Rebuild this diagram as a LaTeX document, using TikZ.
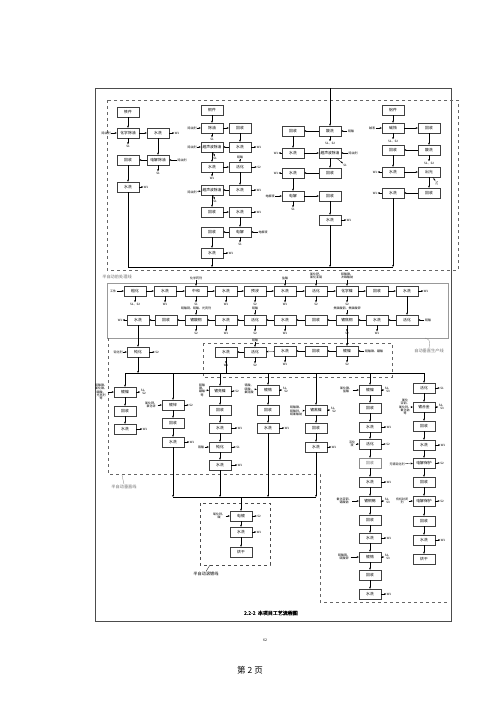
\documentclass[tikz,border=0pt]{standalone}
\usepackage{fontspec}
\newfontfamily\cjk{Noto Sans CJK SC}
\newfontfamily\cjkbold{Noto Sans CJK SC}[FakeBold=1.5]
\usetikzlibrary{arrows.meta}
\tikzset{
  box/.style={draw=black!75, line width=0.3pt, minimum width=22pt, minimum height=10pt, inner sep=0.4pt, font=\cjk\fontsize{3.8}{4.2}\selectfont},
  lbl/.style={inner sep=0.4pt, font=\cjk\fontsize{3}{3.4}\selectfont, align=center},
  zone/.style={inner sep=0.5pt, font=\cjk\fontsize{4.2}{5}\selectfont, text=black!55},
}
\begin{document}
\begin{tikzpicture}[x=1pt, y=-1pt, line width=0.3pt, >={Stealth[length=2.2pt,width=1.8pt]}]
    \useasboundingbox (0,0) rectangle (500,707);
    \fill[white] (0,0) rectangle (500,707);
    % Page frame and zones
    \draw[line width=0.6pt, black!70] (95,88) rectangle (451,621);
    \draw[dashed, black!60] (107,100) rectangle (458,270);
    \draw[black!40] (107,283) rectangle (448,338);
    \draw[dashed, black!60] (203,343) rectangle (392,377);
    \draw[dashed, black!60] (108,338) -- (108,474) -- (320,474) -- (320,602) -- (447,602);
    \draw[dashed, black!70] (200,503) rectangle (270,565);
    \node[zone] (z1) at (117,277) {半自动前处理线};
    \node[zone] (z2) at (429,351) {自动垂直生产线};
    \node[zone] (z3) at (124,487) {半自动垂直线};
    \node[zone, text=black] (z4) at (206,574) {半自动滚镀线};
    \draw[black!50] (z2.north) .. controls (430,340) .. (425,338);
    \draw[black!50] (z3.north) -- (122,475);
    \draw (z4.north) -- (210,565);

    % Column A
    \node[box] (A0) at (128,112) {铁件};
    \node[box] (A1) at (128,133) {化学除油};
    \node[box] (A2) at (158,133) {水洗};
    \node[box] (A3) at (158,160) {电解除油};
    \node[box] (A4) at (128,160) {回收};
    \node[box] (A5) at (128,187) {水洗};
    \node[lbl] (A1i) at (106,133) {除油剂};
    \node[lbl] (A1s) at (128,146) {S1};
    \node[lbl] (A2w) at (177,133) {W1};
    \node[lbl] (A3i) at (182,160) {除油剂};
    \node[lbl] (A3s) at (158,173) {S1};
    \node[lbl] (A5w) at (146,187) {W1};
    \draw[->] (A0) -- (A1);
    \draw[->] (A1) -- (A2);
    \draw[->] (A2) -- (A3);
    \draw[->] (A3) -- (A4);
    \draw[->] (A4) -- (A5);
    \draw[->] (A1i) -- (A1);
    \draw[->] (A1) -- (A1s);
    \draw[->] (A2) -- (A2w);
    \draw[->] (A3i) -- (A3);
    \draw[->] (A3) -- (A3s);
    \draw[->] (A5) -- (A5w);

    % Column B
    \node[box] (B0) at (212,110) {铜件};
    \node[box] (B1) at (212,128) {除油};
    \node[box] (B2) at (240,128) {回收};
    \node[box] (B3) at (240,147) {水洗};
    \node[box] (B4) at (212,147) {超声波除油};
    \node[box] (B5) at (212,167) {水洗};
    \node[box] (B6) at (240,167) {活化};
    \node[box] (B7) at (240,190) {水洗};
    \node[box] (B8) at (212,190) {超声波除油};
    \node[box] (B9) at (212,212) {回收};
    \node[box] (B10) at (240,212) {水洗};
    \node[box] (B11) at (240,232) {电解};
    \node[box] (B12) at (212,232) {回收};
    \node[box] (B13) at (212,253) {水洗};
    \node[lbl] (B1i) at (192,128) {除油剂};
    \node[lbl] (B1s) at (212,139) {S1};
    \node[lbl] (B3w) at (259,147) {W1};
    \node[lbl] (B4i) at (192,147) {除油剂};
    \node[lbl] (B4s) at (215,158) {S1};
    \node[lbl] (B5w) at (212,178) {W1};
    \node[lbl] (B6i) at (240,157) {硫酸};
    \node[lbl] (B6s) at (259,167) {S2};
    \node[lbl] (B7w) at (259,190) {W1};
    \node[lbl] (B8i) at (192,192) {除油剂};
    \node[lbl] (B8s) at (215,201) {S1};
    \node[lbl] (B10w) at (259,212) {W1};
    \node[lbl] (B11i) at (263,232) {电解液};
    \node[lbl] (B11s) at (240,244) {S1};
    \node[lbl] (B13w) at (231,253) {W1};
    \draw[->] (B0) -- (B1);
    \draw[->] (B1) -- (B2);
    \draw[->] (B2) -- (B3);
    \draw[->] (B3) -- (B4);
    \draw[->] (B4) -- (B5);
    \draw[->] (B5) -- (B6);
    \draw[->] (B6) -- (B7);
    \draw[->] (B7) -- (B8);
    \draw[->] (B8) -- (B9);
    \draw[->] (B9) -- (B10);
    \draw[->] (B10) -- (B11);
    \draw[->] (B11) -- (B12);
    \draw[->] (B12) -- (B13);
    \draw[->] (B1i) -- (B1);
    \draw[->] (B1) -- (B1s);
    \draw[->] (B3) -- (B3w);
    \draw[->] (B4i) -- (B4);
    \draw[->] (B4) -- (B4s);
    \draw[->] (B5) -- (B5w);
    \draw[->] (B6i) -- (B6);
    \draw[->] (B6) -- (B6s);
    \draw[->] (B7) -- (B7w);
    \draw[->] (B8i) -- (B8);
    \draw[->] (B8) -- (B8s);
    \draw[->] (B10) -- (B10w);
    \draw[->] (B11i) -- (B11);
    \draw[->] (B11) -- (B11s);
    \draw[->] (B13) -- (B13w);

    % Column C
    \coordinate (ctop) at (330,88);
    \node[box] (C1) at (330,131) {酸洗};
    \node[box] (C2) at (293,131) {回收};
    \node[box] (C3) at (293,153) {水洗};
    \node[box] (C4) at (330,153) {超声波除油};
    \node[box] (C5) at (330,173) {回收};
    \node[box] (C6) at (293,173) {水洗};
    \node[box] (C7) at (293,196) {电解};
    \node[box] (C8) at (330,196) {回收};
    \node[box] (C9) at (330,220) {水洗};
    \node[lbl] (C1i) at (351,131) {硫酸};
    \node[lbl] (C1s) at (330,143) {S1、S2};
    \node[lbl] (C3w) at (276,153) {W1};
    \node[lbl] (C4i) at (353,153) {除油剂};
    \node[lbl] (C4s) at (345,165) {S1};
    \node[lbl] (C6w) at (276,173) {W1};
    \node[lbl] (C7i) at (270,196) {电解液};
    \node[lbl] (C7s) at (293,209) {S1};
    \node[lbl] (C9w) at (349,220) {W1};
    \draw[->] (ctop) -- (C1);
    \draw[->] (C1) -- (C2);
    \draw[->] (C2) -- (C3);
    \draw[->] (C3) -- (C4);
    \draw[->] (C4) -- (C5);
    \draw[->] (C5) -- (C6);
    \draw[->] (C6) -- (C7);
    \draw[->] (C7) -- (C8);
    \draw[->] (C8) -- (C9);
    \draw[->] (C1i) -- (C1);
    \draw[->] (C1) -- (C1s);
    \draw[->] (C3) -- (C3w);
    \draw[->] (C4i) -- (C4);
    \draw[->] (C4) -- (C4s);
    \draw[->] (C6) -- (C6w);
    \draw[->] (C7i) -- (C7);
    \draw[->] (C7) -- (C7s);
    \draw[->] (C9) -- (C9w);

    % Column D
    \node[box] (D0) at (393,110) {铝件};
    \node[box] (D1) at (393,128) {碱蚀};
    \node[box] (D2) at (429,128) {回收};
    \node[box] (D3) at (429,150) {酸洗};
    \node[box] (D4) at (393,150) {回收};
    \node[box] (D5) at (393,172) {水洗};
    \node[box] (D6) at (429,172) {出光};
    \node[box] (D7) at (429,193) {回收};
    \node[box] (D8) at (393,193) {水洗};
    \node[lbl] (D1i) at (372,128) {碱液};
    \node[lbl] (D1s) at (393,141) {S1、S2};
    \node[lbl] (D3s) at (429,163) {S1、S2};
    \node[lbl] (D5w) at (375,172) {W1};
    \node[lbl, rotate=-90] (D6s) at (437,183) {S2};
    \node[lbl] (D8w) at (375,193) {W1};
    \draw[->] (D0) -- (D1);
    \draw[->] (D1) -- (D2);
    \draw[->] (D2) -- (D3);
    \draw[->] (D3) -- (D4);
    \draw[->] (D4) -- (D5);
    \draw[->] (D5) -- (D6);
    \draw[->] (D6) -- (D7);
    \draw[->] (D7) -- (D8);
    \draw[->] (D1i) -- (D1);
    \draw[->] (D1) -- (D1s);
    \draw[->] (D3) -- (D3s);
    \draw[->] (D5) -- (D5w);
    \draw[->] (D6) -- (D6s);
    \draw[->] (D8) -- (D8w);

    % Collecting line of the top zone
    \coordinate (ca) at (128,267);
    \coordinate (cb) at (212,267);
    \coordinate (cc) at (330,267);
    \coordinate (cd) at (393,267);
    \draw (A5) -- (ca) -- (cd);
    \draw[->] (B13) -- (cb);
    \draw[->] (C9) -- (cc);
    \draw[->] (D8) -- (cd);

    % Row 1
    \node[lbl] (m0) at (113,291) {工件};
    \node[box] (M1) at (135,291) {粗化};
    \node[box] (M2) at (165,291) {水洗};
    \node[box] (M3) at (196,291) {中和};
    \node[box] (M4) at (226,291) {水洗};
    \node[box] (M5) at (255,291) {预浸};
    \node[box] (M6) at (285,291) {水洗};
    \node[box] (M7) at (316,291) {活化};
    \node[box] (M8) at (347,291) {化学镍};
    \node[box] (M9) at (377,291) {回收};
    \node[box] (M10) at (407,291) {水洗};
    \node[lbl] (M1s) at (135,304) {S1、S2};
    \node[lbl] (M2w) at (165,304) {W1};
    \node[lbl] (M3i) at (196,278) {化学药剂};
    \node[lbl] (M3s) at (196,304) {S1};
    \node[lbl] (M4w) at (226,304) {W1};
    \node[lbl] (M5s) at (255,304) {S2};
    \node[lbl] (M6i) at (285,278) {盐酸};
    \node[lbl] (M6w) at (285,304) {W1};
    \node[lbl] (M7i) at (316,276) {氯化钯、\\氯化亚锡};
    \node[lbl] (M7s) at (316,304) {S2};
    \node[lbl] (M8i) at (347,276) {硫酸镍、\\次磷酸钠};
    \node[lbl] (M8s) at (347,304) {S2};
    \node[lbl] (M10w) at (426,291) {W1};
    \draw[->] (m0) -- (M1);
    \draw[->] (M1) -- (M2);
    \draw[->] (M2) -- (M3);
    \draw[->] (M3) -- (M4);
    \draw[->] (M4) -- (M5);
    \draw[->] (M5) -- (M6);
    \draw[->] (M6) -- (M7);
    \draw[->] (M7) -- (M8);
    \draw[->] (M8) -- (M9);
    \draw[->] (M9) -- (M10);
    \draw[->] (M1) -- (M1s);
    \draw[->] (M2) -- (M2w);
    \draw[->] (M3i) -- (M3);
    \draw[->] (M3) -- (M3s);
    \draw[->] (M4) -- (M4w);
    \draw[->] (M5) -- (M5s);
    \draw[->] (M6i) -- (M6);
    \draw[->] (M6) -- (M6w);
    \draw[->] (M7i) -- (M7);
    \draw[->] (M7) -- (M7s);
    \draw[->] (M8i) -- (M8);
    \draw[->] (M8) -- (M8s);
    \draw[->] (M10) -- (M10w);

    % Row 2
    \node[box] (N1) at (407,320) {活化};
    \node[box] (N2) at (377,320) {水洗};
    \node[box] (N3) at (347,320) {镀焦铜};
    \node[box] (N4) at (316,320) {回收};
    \node[box] (N5) at (285,320) {水洗};
    \node[box] (N6) at (255,320) {活化};
    \node[box] (N7) at (226,320) {水洗};
    \node[box] (N8) at (196,320) {镀酸铜};
    \node[box] (N9) at (166,320) {回收};
    \node[box] (N10) at (138,320) {水洗};
    \node[box] (N11) at (138,352) {钝化};
    \node[lbl] (N1i) at (428,320) {硫酸};
    \node[lbl] (N2w) at (377,333) {W1};
    \node[lbl] (N3i) at (347,308) {焦磷酸铜、焦磷酸钾};
    \node[lbl] (N3s) at (347,333) {S2};
    \node[lbl] (N5w) at (285,333) {W1};
    \node[lbl] (N6i) at (255,308) {硫酸};
    \node[lbl] (N6s) at (255,333) {S2};
    \node[lbl] (N7w) at (226,333) {W1};
    \node[lbl] (N8i) at (196,308) {硫酸铜、硫酸、光亮剂};
    \node[lbl] (N8s) at (196,333) {S2};
    \node[lbl] (N10w) at (120,320) {W1};
    \node[lbl] (N11i) at (118,352) {钝化剂};
    \node[lbl] (N11s) at (157,352) {S2};
    \draw[->] (M10) -- (N1);
    \draw[->] (N1) -- (N2);
    \draw[->] (N2) -- (N3);
    \draw[->] (N3) -- (N4);
    \draw[->] (N4) -- (N5);
    \draw[->] (N5) -- (N6);
    \draw[->] (N6) -- (N7);
    \draw[->] (N7) -- (N8);
    \draw[->] (N8) -- (N9);
    \draw[->] (N9) -- (N10);
    \draw[->] (N10) -- (N11);
    \draw[->] (N1i) -- (N1);
    \draw[->] (N2) -- (N2w);
    \draw[->] (N3i) -- (N3);
    \draw[->] (N3) -- (N3s);
    \draw[->] (N5) -- (N5w);
    \draw[->] (N6i) -- (N6);
    \draw[->] (N6) -- (N6s);
    \draw[->] (N7) -- (N7w);
    \draw[->] (N8i) -- (N8);
    \draw[->] (N8) -- (N8s);
    \draw[->] (N10) -- (N10w);
    \draw[->] (N11i) -- (N11);
    \draw[->] (N11) -- (N11s);

    % Row 3
    \node[box] (P1) at (347,351) {镀镍};
    \node[box] (P2) at (316,351) {回收};
    \node[box] (P3) at (285,351) {水洗};
    \node[box] (P4) at (255,352) {活化};
    \node[box] (P5) at (226,352) {水洗};
    \node[lbl] (P1i) at (374,351) {硫酸镍、硼酸};
    \node[lbl] (P1s) at (347,364) {S2};
    \node[lbl] (P3w) at (285,364) {W1};
    \node[lbl] (P4i) at (255,340) {硫酸};
    \node[lbl] (P4s) at (255,365) {S2};
    \node[lbl] (P5w) at (226,365) {W1};
    \draw[->] (N3) -- (P1);
    \draw[->] (P1) -- (P2);
    \draw[->] (P2) -- (P3);
    \draw[->] (P3) -- (P4);
    \draw[->] (P4) -- (P5);
    \draw[->] (P1i) -- (P1);
    \draw[->] (P1) -- (P1s);
    \draw[->] (P3) -- (P3w);
    \draw[->] (P4i) -- (P4);
    \draw[->] (P4) -- (P4s);
    \draw[->] (P5) -- (P5w);

    % Distribution line
    \coordinate (d1) at (125,373);
    \coordinate (d2) at (138,373);
    \coordinate (d3) at (173,373);
    \coordinate (d4) at (220,373);
    \coordinate (d5) at (226,373);
    \coordinate (d6) at (268,373);
    \coordinate (d7) at (316,373);
    \coordinate (d8) at (370,373);
    \coordinate (d9) at (424,373);
    \draw (d1) -- (d9);
    \draw[->] (N11) -- (d2);
    \draw (P5) -- (d5);

    % Column L1
    \node[box] (L1a) at (125,392) {镀镍};
    \node[box] (L1b) at (125,411) {回收};
    \node[box] (L1c) at (125,429) {水洗};
    \node[lbl] (L1ai) at (101,392) {硫酸镍、\\氯化镍、\\硼酸、\\光亮剂\\等};
    \node[lbl] (L1as) at (144,392) {S1、\\S2};
    \node[lbl] (L1cw) at (145,429) {W1};
    \draw[->] (d1) -- (L1a);
    \draw[->] (L1a) -- (L1b);
    \draw[->] (L1b) -- (L1c);
    \draw[->] (L1ai) -- (L1a);
    \draw[->] (L1a) -- (L1as);
    \draw[->] (L1c) -- (L1cw);

    % Column L2
    \node[box] (L2a) at (173,405) {镀锌};
    \node[box] (L2b) at (173,423) {回收};
    \node[box] (L2c) at (173,442) {水洗};
    \node[lbl] (L2ai) at (151,405) {氯化钾、\\氯化锌};
    \node[lbl] (L2as) at (191,405) {S2};
    \node[lbl] (L2cw) at (192,442) {W1};
    \draw[->] (d3) -- (L2a);
    \draw[->] (L2a) -- (L2b);
    \draw[->] (L2b) -- (L2c);
    \draw[->] (L2ai) -- (L2a);
    \draw[->] (L2a) -- (L2as);
    \draw[->] (L2c) -- (L2cw);

    % Column L3
    \node[box] (L3a) at (220,391) {镀亮镍};
    \node[box] (L3b) at (220,410) {回收};
    \node[box] (L3c) at (220,428) {水洗};
    \node[box] (L3d) at (220,447) {钝化};
    \node[box] (L3e) at (220,465) {水洗};
    \node[lbl] (L3ai) at (202,390) {硫酸\\镍、\\硼酸\\等};
    \node[lbl] (L3as) at (237,391) {S2};
    \node[lbl] (L3cw) at (240,428) {W1};
    \node[lbl] (L3di) at (201,447) {铬酸};
    \node[lbl] (L3ds) at (238,447) {S1};
    \node[lbl] (L3ew) at (240,465) {W1};
    \draw[->] (d4) -- (L3a);
    \draw[->] (L3a) -- (L3b);
    \draw[->] (L3b) -- (L3c);
    \draw[->] (L3c) -- (L3d);
    \draw[->] (L3d) -- (L3e);
    \draw[->] (L3ai) -- (L3a);
    \draw[->] (L3a) -- (L3as);
    \draw[->] (L3c) -- (L3cw);
    \draw[->] (L3di) -- (L3d);
    \draw[->] (L3d) -- (L3ds);
    \draw[->] (L3e) -- (L3ew);

    % Column L4
    \node[box] (L4a) at (268,390) {镀铬};
    \node[box] (L4b) at (268,410) {回收};
    \node[box] (L4c) at (268,428) {水洗};
    \node[lbl] (L4ai) at (249,389) {铬酸、\\硫酸、\\氟硅酸};
    \node[lbl] (L4as) at (286,390) {S1、\\S2};
    \node[lbl] (L4cw) at (287,428) {W1};
    \draw[->] (d6) -- (L4a);
    \draw[->] (L4a) -- (L4b);
    \draw[->] (L4b) -- (L4c);
    \draw[->] (L4ai) -- (L4a);
    \draw[->] (L4a) -- (L4as);
    \draw[->] (L4c) -- (L4cw);

    % Column L5
    \node[box] (L5a) at (316,410) {镀黑镍};
    \node[box] (L5b) at (316,428) {回收};
    \node[box] (L5c) at (316,447) {水洗};
    \node[lbl] (L5ai) at (296,411) {硫酸镍、\\硫酸锌、\\硫氰酸钠};
    \node[lbl] (L5as) at (334,410) {S1、\\S2};
    \node[lbl] (L5cw) at (334,447) {W1};
    \draw[->] (d7) -- (L5a);
    \draw[->] (L5a) -- (L5b);
    \draw[->] (L5b) -- (L5c);
    \draw[->] (L5ai) -- (L5a);
    \draw[->] (L5a) -- (L5as);
    \draw[->] (L5c) -- (L5cw);

    % Column R1
    \node[box] (R1a) at (370,390) {镀镍};
    \node[box] (R1b) at (370,408) {回收};
    \node[box] (R1c) at (370,427) {水洗};
    \node[box] (R1d) at (370,444) {活化};
    \node[box, draw=black!45, text=black!60] (R1e) at (370,463) {回收};
    \node[box] (R1f) at (370,482) {水洗};
    \node[box] (R1g) at (370,501) {镀铜锡};
    \node[box] (R1h) at (370,520) {回收};
    \node[box] (R1i) at (370,538) {水洗};
    \node[box] (R1j) at (370,557) {镀铬};
    \node[box] (R1k) at (370,575) {回收};
    \node[box] (R1l) at (370,594) {水洗};
    \node[lbl] (R1ai) at (346,390) {氯化镍、\\盐酸};
    \node[lbl] (R1as) at (388,390) {S2、\\S3};
    \node[lbl] (R1cw) at (389,427) {W1};
    \node[lbl] (R1di) at (352,444) {活化\\液};
    \node[lbl] (R1ds) at (388,444) {S2};
    \node[lbl] (R1fw) at (389,482) {W1};
    \node[lbl] (R1gi) at (344,501) {氰化亚铜、\\锡酸钠};
    \node[lbl] (R1gs) at (388,501) {S2、\\S3};
    \node[lbl] (R1iw) at (389,538) {W1};
    \node[lbl] (R1ji) at (344,557) {硫酸铬、\\硫酸钾};
    \node[lbl] (R1js) at (388,557) {S2、\\S3};
    \node[lbl] (R1lw) at (389,594) {W1};
    \draw[->] (d8) -- (R1a);
    \draw[->] (R1a) -- (R1b);
    \draw[->] (R1b) -- (R1c);
    \draw[->] (R1c) -- (R1d);
    \draw[->] (R1d) -- (R1e);
    \draw[->] (R1e) -- (R1f);
    \draw[->] (R1f) -- (R1g);
    \draw[->] (R1g) -- (R1h);
    \draw[->] (R1h) -- (R1i);
    \draw[->] (R1i) -- (R1j);
    \draw[->] (R1j) -- (R1k);
    \draw[->] (R1k) -- (R1l);
    \draw[->] (R1ai) -- (R1a);
    \draw[->] (R1a) -- (R1as);
    \draw[->] (R1c) -- (R1cw);
    \draw[->] (R1di) -- (R1d);
    \draw[->] (R1d) -- (R1ds);
    \draw[->] (R1f) -- (R1fw);
    \draw[->] (R1gi) -- (R1g);
    \draw[->] (R1g) -- (R1gs);
    \draw[->] (R1i) -- (R1iw);
    \draw[->] (R1ji) -- (R1j);
    \draw[->] (R1j) -- (R1js);
    \draw[->] (R1l) -- (R1lw);

    % Column R2
    \node[box] (R2a) at (424,388) {活化};
    \node[box] (R2b) at (424,407) {镀合金};
    \node[box] (R2c) at (424,426) {回收};
    \node[box] (R2d) at (424,445) {水洗};
    \node[box] (R2e) at (424,463) {电解保护};
    \node[box] (R2f) at (424,482) {回收};
    \node[box] (R2g) at (424,501) {电解保护};
    \node[box] (R2h) at (424,521) {回收};
    \node[box] (R2i) at (424,540) {水洗};
    \node[box] (R2j) at (424,559) {烘干};
    \node[lbl] (R2as) at (442,388) {S1};
    \node[lbl] (R2bi) at (405,407) {氰化\\亚铜、\\氰化锌、\\氰化钠\\等};
    \node[lbl] (R2bs) at (442,407) {S2、\\S3};
    \node[lbl] (R2dw) at (443,445) {W1};
    \node[lbl] (R2ei) at (397,464) {无铬钝化剂};
    \node[lbl] (R2es) at (442,463) {S2};
    \node[lbl] (R2gi) at (402,501) {有机封闭\\剂};
    \node[lbl] (R2gs) at (442,501) {S2};
    \node[lbl] (R2iw) at (443,540) {W1};
    \draw[->] (d9) -- (R2a);
    \draw[->] (R2a) -- (R2b);
    \draw[->] (R2b) -- (R2c);
    \draw[->] (R2c) -- (R2d);
    \draw[->] (R2d) -- (R2e);
    \draw[->] (R2e) -- (R2f);
    \draw[->] (R2f) -- (R2g);
    \draw[->] (R2g) -- (R2h);
    \draw[->] (R2h) -- (R2i);
    \draw[->] (R2i) -- (R2j);
    \draw[->] (R2a) -- (R2as);
    \draw[->] (R2bi) -- (R2b);
    \draw[->] (R2b) -- (R2bs);
    \draw[->] (R2d) -- (R2dw);
    \draw[->] (R2ei) -- (R2e);
    \draw[->] (R2e) -- (R2es);
    \draw[->] (R2gi) -- (R2g);
    \draw[->] (R2g) -- (R2gs);
    \draw[->] (R2i) -- (R2iw);

    % Barrel line
    \coordinate (b2) at (173,497);
    \coordinate (b3) at (220,497);
    \coordinate (b4) at (268,497);
    \coordinate (b5) at (316,497);
    \coordinate (bm) at (241,497);
    \draw (b2) -- (b5);
    \draw[->] (L2c) -- (b2);
    \draw[->] (L3e) -- (b3);
    \draw[->] (L4c) -- (b4);
    \draw[->] (L5c) -- (b5);
    \node[box] (G1) at (241,516) {电镀};
    \node[box] (G2) at (241,532) {水洗};
    \node[box] (G3) at (241,552) {烘干};
    \node[lbl] (G1i) at (219,516) {氧化锌、\\碱};
    \node[lbl] (G1s) at (259,516) {S2};
    \node[lbl] (G2w) at (259,532) {W1};
    \draw[->] (bm) -- (G1);
    \draw[->] (G1) -- (G2);
    \draw[->] (G2) -- (G3);
    \draw[->] (G1i) -- (G1);
    \draw[->] (G1) -- (G1s);
    \draw[->] (G2) -- (G2w);

    % Caption and page number
    \node[font=\cjkbold\fontsize{5}{6}\selectfont] (cap) at (271,613) {2.2-2\ \ 本项目工艺流程图};
    \node[font=\cjk\fontsize{3.5}{4}\selectfont] (pg) at (265,640) {62};
    \node[font=\cjk\fontsize{8.5}{10}\selectfont] (pgb) at (250,670) {第 2 页};
\end{tikzpicture}
\end{document}
